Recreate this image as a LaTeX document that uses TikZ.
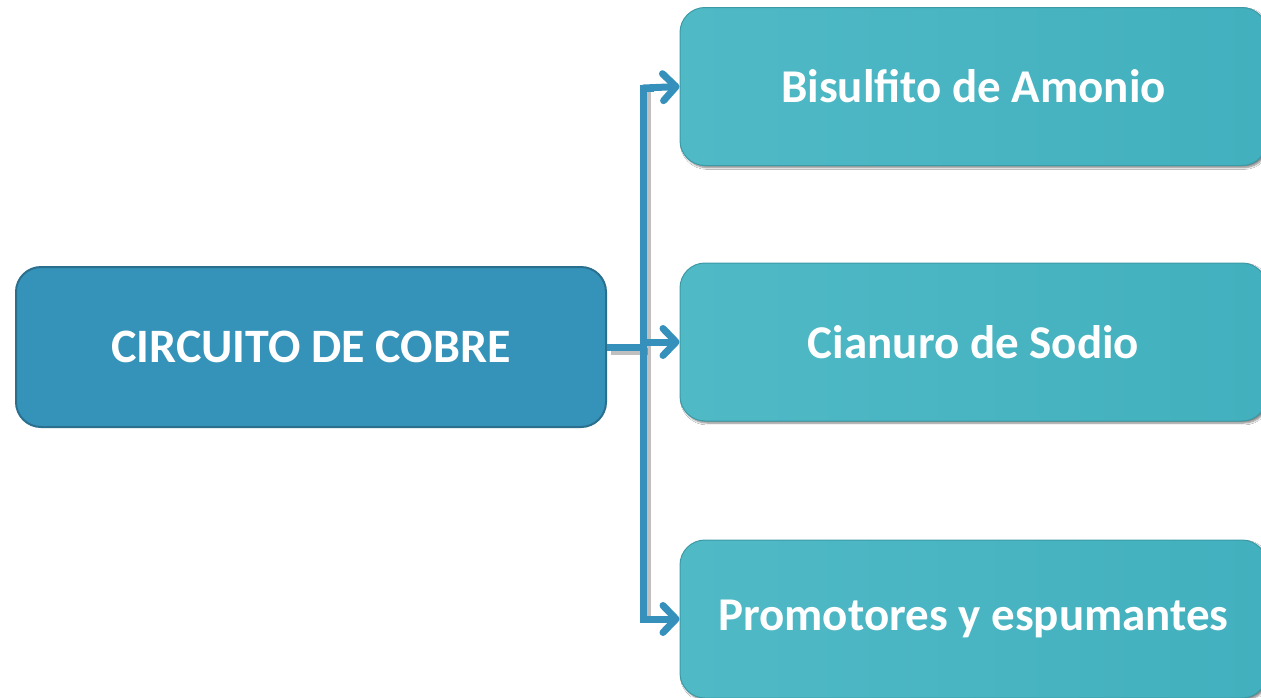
\documentclass[tikz,border=0pt]{standalone}
\usepackage{fontspec}
\setmainfont{Carlito}
\usetikzlibrary{arrows.meta,shadows.blur}
\definecolor{mainblue}{HTML}{3593BA}
\definecolor{mainborder}{HTML}{2B6F8F}
\definecolor{tealL}{HTML}{50B9C6}
\definecolor{tealR}{HTML}{42B0BE}
\definecolor{tealborder}{HTML}{3C9AA6}
\definecolor{linkblue}{HTML}{3591BB}
\tikzset{
  mainbox/.style={draw=mainborder, line width=2pt, fill=mainblue, rounded corners=25pt,
    minimum width=590pt, minimum height=160pt, inner sep=0pt,
    text=white, font=\fontsize{48}{54}\selectfont\bfseries},
  subbox/.style={draw=tealborder, line width=1pt, left color=tealL, right color=tealR,
    rounded corners=25pt, minimum width=587pt, minimum height=158pt, inner sep=0pt,
    text=white, font=\fontsize{47}{54}\selectfont\bfseries,
    blur shadow={shadow xshift=2pt, shadow yshift=-2pt, shadow blur steps=6, shadow opacity=50}},
  link/.style={draw=linkblue, line width=7pt},
  linkshadow/.style={draw=black, opacity=0.25, line width=7pt, transform canvas={xshift=4pt, yshift=-4pt}},
  arr/.style={-{Straight Barb[length=13pt, width=27pt, line cap=round, round]}, draw=linkblue, line width=7pt, line cap=round}
}
\begin{document}
\begin{tikzpicture}[x=1pt,y=-1pt]
\useasboundingbox (0,0) rectangle (1261,697);
\fill[white] (0,0) rectangle (1261,697);
\node[mainbox] (main) at (311,347) {CIRCUITO DE COBRE};
\node[subbox] (b1) at (973.5,86.5) {Bisulfito de Amonio};
\node[subbox] (b2) at (973.5,342) {Cianuro de Sodio};
\node[subbox] (b3) at (973.5,619) {Promotores y espumantes};
\coordinate (jm) at (643.5,347);
\coordinate (jt) at (643.5,88);
\coordinate (jb) at (643.5,619);
\draw[linkshadow] (jt) -- (jb);
\draw[linkshadow] (main.east) -- (jm);
\draw[link, line join=miter] ([xshift=10pt]jt) -- (jt) -- (jb) -- ([xshift=10pt]jb);
\draw[link] (main.east) -- (jm);
\draw[arr] (jt) -- (b1.west);
\draw[arr] (643.5,342) -- (b2.west);
\draw[arr] (jb) -- (b3.west);
\end{tikzpicture}
\end{document}
